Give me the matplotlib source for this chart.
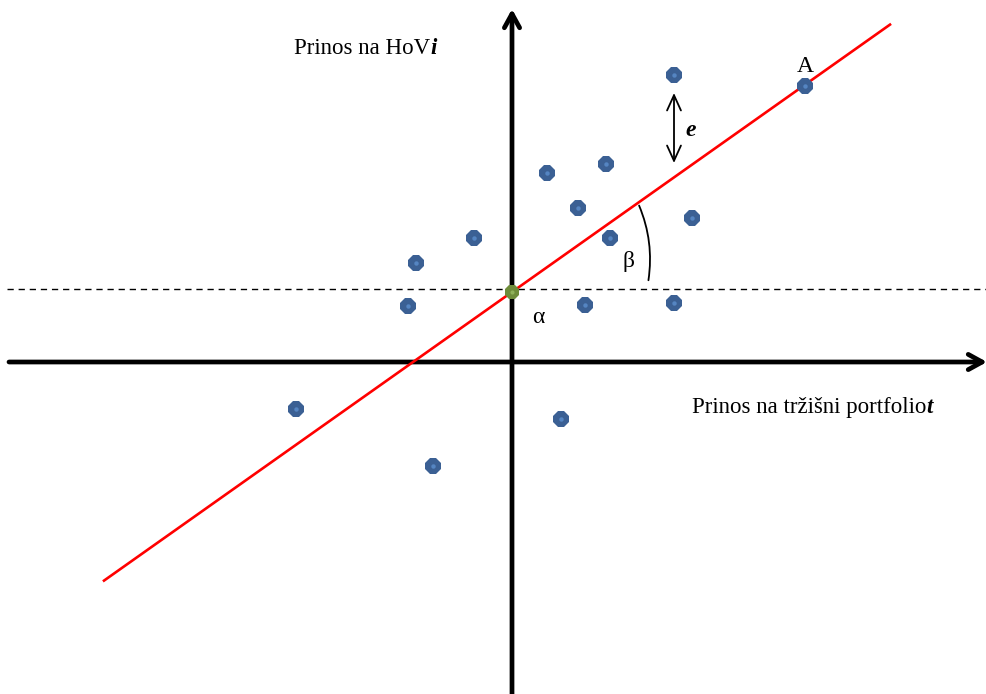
import matplotlib
matplotlib.use("Agg")
import matplotlib.pyplot as plt
from matplotlib.patches import FancyArrowPatch

# Data (centred on the axis crossing, units ~ pixels)
market = [162, 293, 35, 94, 66, 180, -38, 98, -96, -104, 73, 162, -216, 49, -79]
stock = [287, 276, 189, 198, 154, 144, 124, 124, 99, 56, 57, 59, -47, -57, -104]
alpha = 70
beta = 0.7074
alpha_level = 73
line_x = [-408, 378]
e_x = 162
e_y = [269, 199]

plt.rcParams['font.family'] = ['Liberation Serif', 'DejaVu Serif']

fig = plt.figure(figsize=(9.87, 6.94), dpi=100)
ax = fig.add_axes([0, 0, 1, 1])
ax.set_xlim(-512, 475)
ax.set_ylim(-332, 362)
ax.axis('off')

# dashed alpha level
ax.plot([-505, 475], [alpha_level, alpha_level], color='black', lw=1.0,
        dashes=(4.5, 3.5), zorder=1)

# axes with arrows
ax.annotate('', xy=(475, 0), xytext=(-503, 0),
            arrowprops=dict(arrowstyle='->,head_length=1.0,head_width=0.55',
                            lw=3.4, color='black', shrinkA=0, shrinkB=0), zorder=2)
ax.annotate('', xy=(0, 353), xytext=(0, -332),
            arrowprops=dict(arrowstyle='->,head_length=1.0,head_width=0.55',
                            lw=3.4, color='black', shrinkA=0, shrinkB=0), zorder=2)

# regression line
ax.plot(line_x, [alpha + beta * x for x in line_x], color='#ff0000', lw=1.9, zorder=3)

# points
ax.plot(market, stock, linestyle='none', marker='8', markersize=12.5,
        color='#3b6094', markeredgewidth=0, zorder=4)
ax.plot(market, stock, linestyle='none', marker='o', markersize=3.2,
        color='#5585c2', markeredgewidth=0, zorder=5)
ax.plot([0], [alpha], linestyle='none', marker='8', markersize=10.5,
        color='#6e8c3a', markeredgewidth=0, zorder=6)
ax.plot([0], [alpha], linestyle='none', marker='o', markersize=3,
        color='#8fb15a', markeredgewidth=0, zorder=7)

# e arrow
ax.annotate('', xy=(e_x, e_y[0]), xytext=(e_x, e_y[1]),
            arrowprops=dict(arrowstyle='<->,head_length=1.1,head_width=0.5',
                            lw=1.3, color='black', shrinkA=0, shrinkB=0))
ax.text(e_x + 11, 232, 'e', fontsize=17, fontweight='bold', fontstyle='italic',
        va='center', ha='left')

# beta arc
arc = FancyArrowPatch((126, 159), (136, 79), arrowstyle='-',
                      connectionstyle='arc3,rad=-0.15', lw=1.3, color='black')
ax.add_patch(arc)
ax.text(116, 101, 'β', fontsize=17, ha='center', va='center')
ax.text(26, 45, 'α', fontsize=17, ha='center', va='center')
ax.text(293, 296, 'A', fontsize=17, ha='center', va='center')

# labels with bold italic suffix
fig.canvas.draw()
r = fig.canvas.get_renderer()

def label(x, y, main, suffix):
    t = ax.text(x, y, main, fontsize=16.5, ha='left', va='center')
    bb = t.get_window_extent(renderer=r)
    inv = ax.transData.inverted()
    x2 = inv.transform((bb.x1, bb.y0))[0]
    ax.text(x2, y, suffix, fontsize=16.5, ha='left', va='center',
            fontweight='bold', fontstyle='italic')

label(-218, 314, 'Prinos na HoV', 'i')
label(180, -45, 'Prinos na tržišni portfolio', 't')

fig.savefig('out.png', dpi=100)
